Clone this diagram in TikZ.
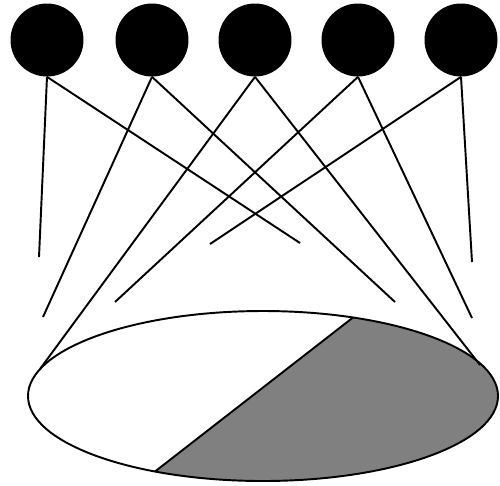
\documentclass[tikz,border=0pt]{standalone}
\usepackage{tikz}
\usetikzlibrary{positioning}

\begin{document}
\begin{tikzpicture}[x=0.02cm, y=-0.02cm,
    dot/.style={circle, fill=black, minimum size=1.46cm, inner sep=0pt},
    wire/.style={black, line width=1.1pt}]
  \useasboundingbox (0,0) rectangle (500,485);
  % five black discs along the top
  \foreach \i/\x in {1/47, 2/152, 3/255, 4/358, 5/461}{
    \node[dot] (d\i) at (\x,40) {};
  }
  % free ends of the wires
  \coordinate (e1a) at (39,257);
  \coordinate (e1b) at (300,243);
  \coordinate (e2a) at (43,317);
  \coordinate (e2b) at (395,302);
  \coordinate (e3a) at (40,369);
  \coordinate (e3b) at (480,365);
  \coordinate (e4a) at (115,302);
  \coordinate (e4b) at (472,318);
  \coordinate (e5a) at (210,244);
  \coordinate (e5b) at (472,262);
  % cut across the ellipse
  \coordinate (cutA) at (155,471.5);
  \coordinate (cutB) at (353,317.5);
  % shaded right part of the ellipse
  \begin{scope}
    \clip (125,495) -- (383,294) -- (510,294) -- (510,495) -- cycle;
    \fill[black!50] (263,396) ellipse (235 and 85);
  \end{scope}
  \draw[wire] (263,396) ellipse (235 and 85);
  \draw[wire] (cutA) -- (cutB);
  % wires from the discs
  \foreach \i in {1,...,5}{
    \draw[wire] (d\i.south) -- (e\i a);
    \draw[wire] (d\i.south) -- (e\i b);
  }
\end{tikzpicture}
\end{document}
